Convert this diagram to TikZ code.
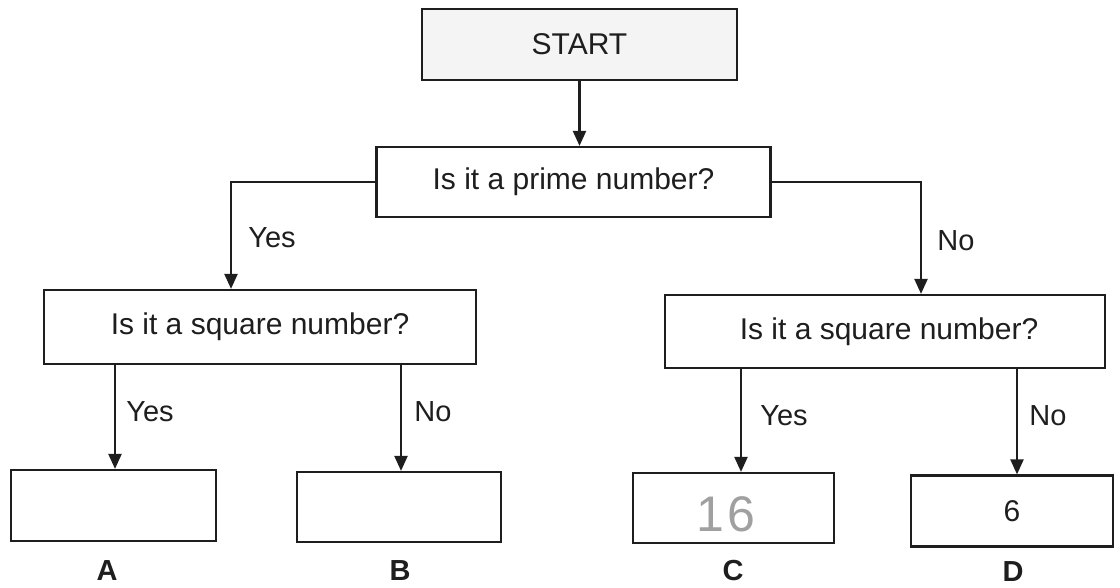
\documentclass[tikz,border=0pt]{standalone}
\usepackage{fontspec}
\setmainfont{Liberation Sans}
\usetikzlibrary{arrows.meta}
\definecolor{ink}{HTML}{1E1E1E}
\definecolor{pencil}{HTML}{A0A0A0}
\tikzset{
  box/.style={draw=ink, line width=2.2pt, rectangle, inner sep=0pt, align=center,
              font=\fontsize{30}{34}\selectfont, text=ink},
  lbl/.style={font=\fontsize{29}{33}\selectfont, text=ink, inner sep=0pt},
  letter/.style={font=\fontsize{29}{33}\selectfont\bfseries, text=ink, inner sep=0pt},
  arr/.style={draw=ink, line width=2.2pt, -{Triangle[width=13pt,length=15pt]}},
}
\begin{document}
\begin{tikzpicture}[x=1pt,y=-1pt]
\useasboundingbox (0,0) rectangle (1120,588);
\fill[white] (0,0) rectangle (1120,588);

\node[box, fill=gray!9, minimum width=315pt, minimum height=71pt] (start) at (579.5,44.5) {START};
\node[box, minimum width=394pt, minimum height=70pt] (prime) at (573.5,182) {Is it a prime number?};
\node[box, minimum width=432pt, minimum height=74pt] (sqL) at (260,327) {Is it a square number?};
\node[box, minimum width=440pt, minimum height=73pt] (sqR) at (885,331.5) {\hspace*{8pt}Is it a square number?};

\node[box, minimum width=205pt, minimum height=71pt] (A) at (113.5,505.5) {};
\node[box, minimum width=204pt, minimum height=70pt] (B) at (399,507) {};
\node[box, minimum width=201pt, minimum height=70pt] (C) at (733.5,508) {};
\node[box, minimum width=202pt, minimum height=71pt] (D) at (1012,511) {6};

\node[text=pencil, font=\fontsize{50}{54}\selectfont, inner sep=0pt] (sixteen) at (726,514) {1\kern3pt6};

\node[letter] (la) at (107,571) {A};
\node[letter] (lb) at (400,571) {B};
\node[letter] (lc) at (733,571) {C};
\node[letter] (ld) at (1013,572) {D};

\draw[arr] (start.south) -- (start.south |- prime.north);
\draw[arr] (prime.west) -| ([xshift=-29pt]sqL.north);
\draw[arr] (prime.east) -| ([xshift=36pt]sqR.north);
\draw[arr] ([xshift=1.5pt]A.north |- sqL.south) -- ([xshift=1.5pt]A.north);
\draw[arr] ([xshift=2pt]B.north |- sqL.south) -- ([xshift=2pt]B.north);
\draw[arr] ([xshift=7.5pt]C.north |- sqR.south) -- ([xshift=7.5pt]C.north);
\draw[arr] ([xshift=5pt]D.north |- sqR.south) -- ([xshift=5pt]D.north);

\node[lbl] (y1) at (272,238) {Yes};
\node[lbl] (n1) at (956,241) {No};
\node[lbl] (y2) at (150,412) {Yes};
\node[lbl] (n2) at (433,412) {No};
\node[lbl] (y3) at (784,416) {Yes};
\node[lbl] (n3) at (1048,416) {No};
\end{tikzpicture}
\end{document}
